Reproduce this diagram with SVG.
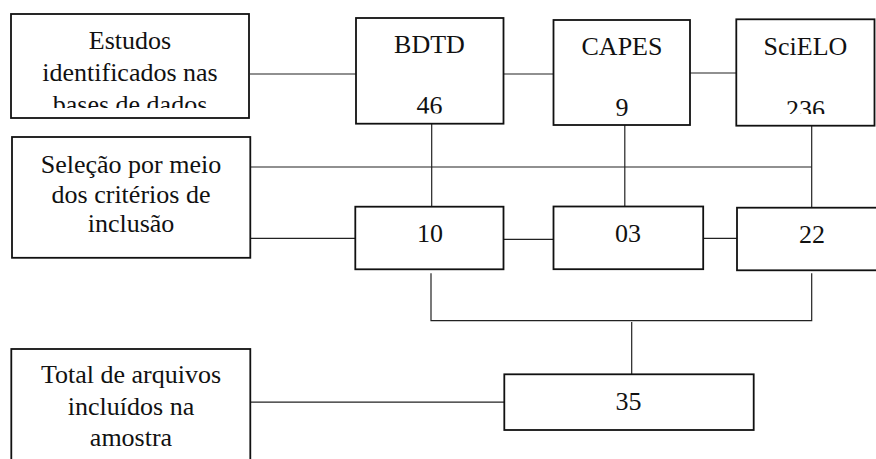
<svg xmlns="http://www.w3.org/2000/svg" width="876" height="459" viewBox="0 0 876 459">
<style>
.box{fill:#fff;stroke:#111;stroke-width:1.8}
.con{fill:none;stroke:#222;stroke-width:1.2}
.t{font-size:26px;fill:#111;text-anchor:middle}
</style>
<defs>
<clipPath id="cEst"><rect x="0" y="0" width="260" height="108"/></clipPath>
<clipPath id="cBdtd"><rect x="340" y="0" width="180" height="113.4"/></clipPath>
<clipPath id="cSci"><rect x="720" y="0" width="156" height="114"/></clipPath>
</defs>
<rect width="876" height="459" fill="#fff"/>
<g id="connectors">
<line class="con" x1="250" y1="74" x2="356" y2="74"/>
<line class="con" x1="503.5" y1="74" x2="553.5" y2="74"/>
<line class="con" x1="688" y1="73" x2="736.3" y2="73"/>
<line class="con" x1="431.7" y1="123.7" x2="431.7" y2="206.7"/>
<line class="con" x1="624.8" y1="125" x2="624.8" y2="206.5"/>
<line class="con" x1="811.7" y1="125.7" x2="811.7" y2="207.7"/>
<line class="con" x1="250.3" y1="167" x2="811.7" y2="167"/>
<line class="con" x1="250.3" y1="238.3" x2="355.3" y2="238.3"/>
<line class="con" x1="503.5" y1="239.3" x2="553.5" y2="239.3"/>
<line class="con" x1="703.2" y1="238.3" x2="737" y2="238.3"/>
<polyline class="con" points="431,273.3 431,320.7 811.7,320.7 811.7,273.3"/>
<line class="con" x1="631.7" y1="322" x2="631.7" y2="374.3"/>
<line class="con" x1="250.3" y1="402.2" x2="504.3" y2="402.2"/>
</g>
<g font-family="Liberation Serif, Tinos, Times New Roman, DejaVu Serif, serif">
<g id="estudos">
<rect class="box" x="11" y="14" width="238" height="104"/>
<g clip-path="url(#cEst)">
<text class="t" x="130" y="49">Estudos</text>
<text class="t" x="130" y="81">identificados nas</text>
<text class="t" x="130" y="112.5">bases de dados</text>
</g>
</g>
<g id="bdtd">
<rect class="box" x="356" y="18" width="147.5" height="105.7"/>
<text class="t" x="429.5" y="53">BDTD</text>
<text class="t" x="429.5" y="114.3" clip-path="url(#cBdtd)">46</text>
</g>
<g id="capes">
<rect class="box" x="553.5" y="20" width="136.5" height="105"/>
<text class="t" x="622" y="55">CAPES</text>
<text class="t" x="622" y="115.5">9</text>
</g>
<g id="scielo">
<rect class="box" x="736.3" y="19.3" width="138.2" height="106.4"/>
<text class="t" x="805.5" y="55">SciELO</text>
<text class="t" x="805.5" y="117.5" clip-path="url(#cSci)">236</text>
</g>
<g id="selecao">
<rect class="box" x="12" y="137" width="238.3" height="120.8"/>
<text class="t" x="131" y="172.7">Seleção por meio</text>
<text class="t" x="131" y="202.7">dos critérios de</text>
<text class="t" x="131" y="231.7">inclusão</text>
</g>
<g id="n10">
<rect class="box" x="355.3" y="206.7" width="148.2" height="62.6"/>
<text class="t" x="430" y="242">10</text>
</g>
<g id="n03">
<rect class="box" x="553.5" y="206.5" width="149.7" height="62.7"/>
<text class="t" x="628" y="242">03</text>
</g>
<g id="n22">
<rect class="box" x="737" y="207.7" width="150" height="62.6"/>
<text class="t" x="812" y="242.5">22</text>
</g>
<g id="total">
<rect class="box" x="11.3" y="349" width="239" height="120"/>
<text class="t" x="131" y="383">Total de arquivos</text>
<text class="t" x="131" y="415">incluídos na</text>
<text class="t" x="131" y="446">amostra</text>
</g>
<g id="n35">
<rect class="box" x="504.3" y="374.3" width="249.4" height="55.7"/>
<text class="t" x="628.5" y="410">35</text>
</g>
</g>
</svg>
